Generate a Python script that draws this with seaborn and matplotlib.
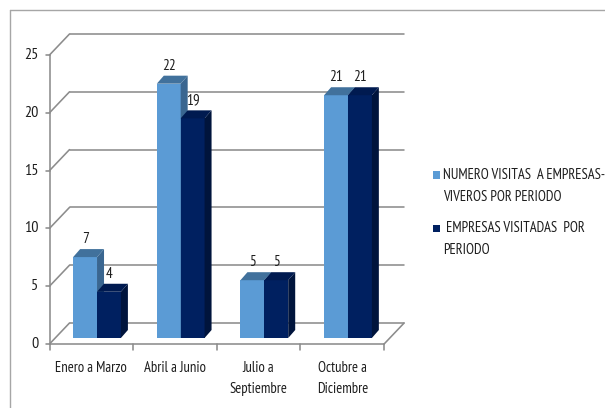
import matplotlib
matplotlib.use("Agg")
import matplotlib.pyplot as plt
import seaborn as sns
import pandas as pd
import numpy as np
from matplotlib.transforms import IdentityTransform
from matplotlib.patches import Polygon, Rectangle
from matplotlib.lines import Line2D

# ---------------- data ----------------
categories = ["Enero a Marzo", "Abril a Junio", "Julio a\nSeptiembre", "Octubre a\nDiciembre"]
series_names = ["NUMERO VISITAS  A EMPRESAS-\nVIVEROS POR PERIODO",
                " EMPRESAS VISITADAS  POR\nPERIODO"]
visitas = [7, 22, 5, 21]
empresas = [4, 19, 5, 21]
yticks = [0, 5, 10, 15, 20, 25]

df = pd.DataFrame({
    "periodo": categories * 2,
    "valor": visitas + empresas,
    "serie": [series_names[0]] * len(categories) + [series_names[1]] * len(categories),
})

# ---------------- style ----------------
light, dark = "#5B9BD5", "#002060"
light_top, light_side = "#41719C", "#3A6690"
dark_top, dark_side = "#001A50", "#00143C"
grid_c = "#8C8C8C"

sns.set_theme(style="white")
plt.rcParams["font.family"] = ["PT Sans Narrow", "DejaVu Sans"]
FS = 10.5
TXT = "#1E1E1E"

W, H = 605, 408
fig = plt.figure(figsize=(W / 100, H / 100), dpi=100)
fig.patch.set_facecolor("white")

# bar plane axes (pixel geometry of the reference)
left_px, right_px, top_px, bot_px = 55.2, 389.8, 49, 338
ax = fig.add_axes([left_px / W, 1 - bot_px / H, (right_px - left_px) / W, (bot_px - top_px) / H])
sns.barplot(data=df, x="periodo", y="valor", hue="serie", palette=[light, dark],
            width=0.571, ax=ax, legend=False, saturation=1, edgecolor="none",
            linewidth=0, errorbar=None)
ax.set_xlim(-0.5, len(categories) - 0.5)
ax.set_ylim(0, yticks[-1])
ax.axis("off")

ident = IdentityTransform()
FRONT = (-5.7, -6.0)   # display offset of front plane
BACK = (14.3, 15.0)    # display offset of back plane
DEPTH = (7.0, 8.0)     # bar depth offset


def disp(x, y, off=(0, 0)):
    X, Y = ax.transData.transform((x, y))
    return X + off[0], Y + off[1]


def line(p, q, **kw):
    ax.add_line(Line2D([p[0], q[0]], [p[1], q[1]], transform=ident, color=grid_c,
                       lw=1.15, clip_on=False, zorder=0.5, **kw))


x0, x1 = -0.5, len(categories) - 0.5
for v in yticks:
    line(disp(x0, v, BACK), disp(x1, v, BACK))
    line(disp(x0, v, FRONT), disp(x0, v, BACK))
    fx_, fy_ = disp(x0, v, FRONT)
    line((fx_ - 4, fy_), (fx_, fy_))
    ax.text(fx_ - 11, fy_, str(v), transform=ident, ha="right", va="center",
            fontsize=11.5, color=TXT)
line(disp(x0, 0, FRONT), disp(x0, yticks[-1], FRONT))
line(disp(x0, 0, FRONT), disp(x1, 0, FRONT))
line(disp(x1, 0, FRONT), disp(x1, 0, BACK))
for b in np.arange(len(categories) + 1) - 0.5:
    bx, by = disp(b, 0, FRONT)
    line((bx, by), (bx, by - 6))
for i, c in enumerate(categories):
    cx, cy = disp(i, 0, FRONT)
    ax.text(cx, cy - 17.5, c, transform=ident, ha="center", va="top", fontsize=FS,
            color=TXT, linespacing=1.6)

# 3D faces of bars
n = len(categories)
for k, p in enumerate(ax.patches):
    is_dark = k >= n
    p.set_zorder(3 if is_dark else 2)
    xa, ya = p.get_x(), p.get_y()
    xb, yb = xa + p.get_width(), ya + p.get_height()
    (X0, Y0), (X1, Y1) = ax.transData.transform([(xa, ya), (xb, yb)])
    dx, dy = DEPTH
    top = Polygon([(X0, Y1), (X1, Y1), (X1 + dx, Y1 + dy), (X0 + dx, Y1 + dy)],
                  closed=True, transform=ident, facecolor=dark_top if is_dark else light_top,
                  edgecolor="none", clip_on=False, zorder=3.5 if is_dark else 2.5)
    side = Polygon([(X1, Y0), (X1, Y1), (X1 + dx, Y1 + dy), (X1 + dx, Y0 + dy)],
                   closed=True, transform=ident, facecolor=dark_side if is_dark else light_side,
                   edgecolor="none", clip_on=False, zorder=3.4 if is_dark else 2.4)
    ax.add_patch(side)
    ax.add_patch(top)
    val = p.get_height()
    ax.text((X0 + X1) / 2, Y1 + 18, f"{val:.0f}", transform=ident, ha="center",
            va="center", fontsize=11, color=TXT, zorder=5)

# legend
leg_x, leg_y = 433, [175, 228]
for s, col, yy in zip(series_names, [light, dark], leg_y):
    fig.add_artist(Rectangle((leg_x / W, 1 - (yy + 3.5) / H), 7 / W, 7 / H,
                             transform=fig.transFigure, facecolor=col, edgecolor="none"))
    for j, ln in enumerate(s.split("\n")):
        fig.text((leg_x + 10) / W, 1 - (yy + 21.5 * j) / H, ln, ha="left", va="center",
                 fontsize=FS, color=TXT)

# outer chart border
fig.add_artist(Line2D([10 / W, 10 / W], [0, 1 - 10 / H], transform=fig.transFigure,
                      color="#A6A6A6", lw=1))
fig.add_artist(Line2D([10 / W, 1], [1 - 10 / H, 1 - 10 / H], transform=fig.transFigure,
                      color="#A6A6A6", lw=1))

fig.savefig("out.png", dpi=100)
